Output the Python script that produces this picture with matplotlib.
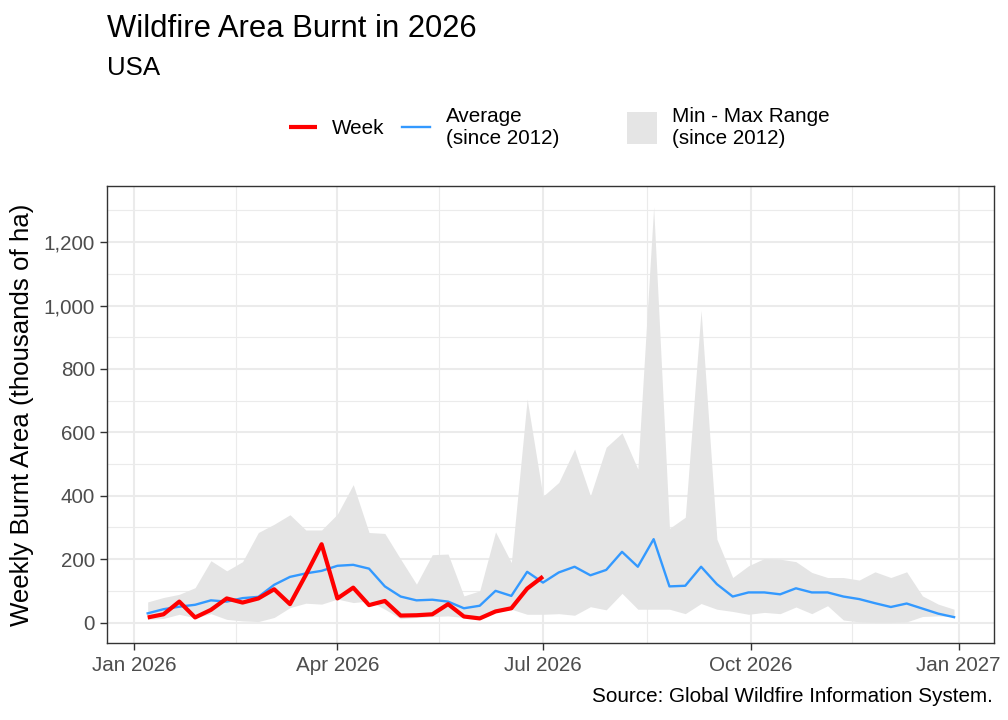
import matplotlib
matplotlib.use('Agg')
import matplotlib.pyplot as plt
import matplotlib.dates as mdates
import matplotlib.ticker as mticker
from matplotlib.lines import Line2D
from matplotlib.patches import Patch
import numpy as np
import pandas as pd

plt.rcParams['font.family'] = ['Liberation Sans', 'DejaVu Sans']

# weekly data, thousands of ha
weeks = pd.date_range('2026-01-07', periods=52, freq='7D')

week_2026 = [16, 26, 66, 16, 40, 76, 63, 76, 105, 58, 150, 247, 76, 110, 55, 68,
             22, 23, 26, 58, 19, 13, 35, 45, 107, 145]

avg_since_2012 = [29, 42, 50, 56, 70, 66, 77, 81, 119, 144, 155, 163, 179, 182, 170, 114,
                  82, 70, 72, 66, 45, 53, 100, 84, 160, 126, 158, 176, 149, 166, 223, 176,
                  263, 114, 116, 176, 121, 82, 95, 95, 89, 108, 95, 95, 82, 74, 61, 49,
                  60, 44, 28, 17]

max_since_2012 = [65, 79, 89, 110, 195, 163, 192, 284, 310, 340, 292, 292, 342, 435, 284, 281,
                  200, 121, 214, 216, 84, 100, 286, 189, 705, 398, 442, 547, 400, 553, 598, 484,
                  1311, 297, 332, 985, 263, 142, 179, 202, 200, 192, 158, 142, 142, 134, 160, 142,
                  160, 84, 58, 42]

min_since_2012 = [10, 13, 26, 15, 28, 10, 5, 3, 16, 47, 61, 58, 74, 63, 68, 42,
                  12, 16, 19, 21, 16, 10, 32, 42, 26, 26, 28, 23, 50, 40, 92, 42,
                  42, 42, 28, 60, 42, 35, 26, 32, 28, 49, 28, 53, 8, 2, 0, 0,
                  2, 19, 21, 19]

base = 18.6  # ggplot-ish base size
fig = plt.figure(figsize=(10.08, 7.2), dpi=100)
ax = fig.add_axes([0.1065, 0.1065, 0.88, 0.635])

ax.fill_between(weeks, min_since_2012, max_since_2012, color='#E5E5E5', lw=0, zorder=2)
ax.plot(weeks, avg_since_2012, color='#3399FF', lw=1.7, zorder=3)
ax.plot(weeks[:len(week_2026)], week_2026, color='#FF0000', lw=3, zorder=4,
        solid_capstyle='butt')

# ggplot style 5% expansion
x0, x1 = mdates.date2num(weeks[0]), mdates.date2num(weeks[-1])
dx = (x1 - x0) * 0.05
ax.set_xlim(x0 - dx, x1 + dx)
y0, y1 = min(min_since_2012), max(max_since_2012)
dy = (y1 - y0) * 0.05
ax.set_ylim(y0 - dy, y1 + dy)

ax.xaxis.set_major_locator(mdates.MonthLocator(bymonth=[1, 4, 7, 10]))
ax.xaxis.set_major_formatter(mdates.DateFormatter('%b %Y'))
minor_x = pd.to_datetime(['2026-02-15', '2026-05-16', '2026-08-16', '2026-11-15'])
ax.xaxis.set_minor_locator(mticker.FixedLocator(mdates.date2num(minor_x)))
ax.yaxis.set_major_locator(mticker.MultipleLocator(200))
ax.yaxis.set_minor_locator(mticker.MultipleLocator(100))
ax.yaxis.set_major_formatter(mticker.StrMethodFormatter('{x:,.0f}'))

ax.grid(which='major', color='#EBEBEB', lw=1.5, zorder=0)
ax.grid(which='minor', color='#EBEBEB', lw=0.8, zorder=0)
ax.set_axisbelow(True)
ax.tick_params(which='major', length=5, width=1, color='#333333',
               labelsize=base * 0.8, labelcolor='#4D4D4D', pad=4)
ax.tick_params(which='minor', length=0)
for s in ax.spines.values():
    s.set_color('#333333')
    s.set_linewidth(1)

ax.set_ylabel('Weekly Burnt Area (thousands of ha)', fontsize=base, labelpad=7)

fig.text(107 / 1008, 1 - 37 / 720, 'Wildfire Area Burnt in 2026', fontsize=base * 1.2,
         ha='left', va='baseline')
fig.text(107 / 1008, 1 - 75 / 720, 'USA', fontsize=base, ha='left', va='baseline')
fig.text(993 / 1008, 1 - 702 / 720, 'Source: Global Wildfire Information System.',
         fontsize=base * 0.8, ha='right', va='baseline')

line_handles = [Line2D([], [], color='#FF0000', lw=3, solid_capstyle='butt'),
                Line2D([], [], color='#3399FF', lw=1.7)]
leg1 = fig.legend(line_handles, ['Week', 'Average\n(since 2012)'], loc='center left',
                  bbox_to_anchor=(289 / 1008, 1 - 127 / 720), ncol=2, frameon=False,
                  fontsize=base * 0.8, handlelength=1.35, handletextpad=0.75,
                  columnspacing=0.85, borderpad=0, borderaxespad=0)
leg2 = fig.legend([Patch(color='#E5E5E5', lw=0)], ['Min - Max Range\n(since 2012)'],
                  loc='center left', bbox_to_anchor=(627 / 1008, 1 - 127 / 720),
                  frameon=False, fontsize=base * 0.8, handlelength=1.45, handleheight=1.95,
                  handletextpad=0.72, borderpad=0, borderaxespad=0)

fig.savefig('out.png', dpi=100)
